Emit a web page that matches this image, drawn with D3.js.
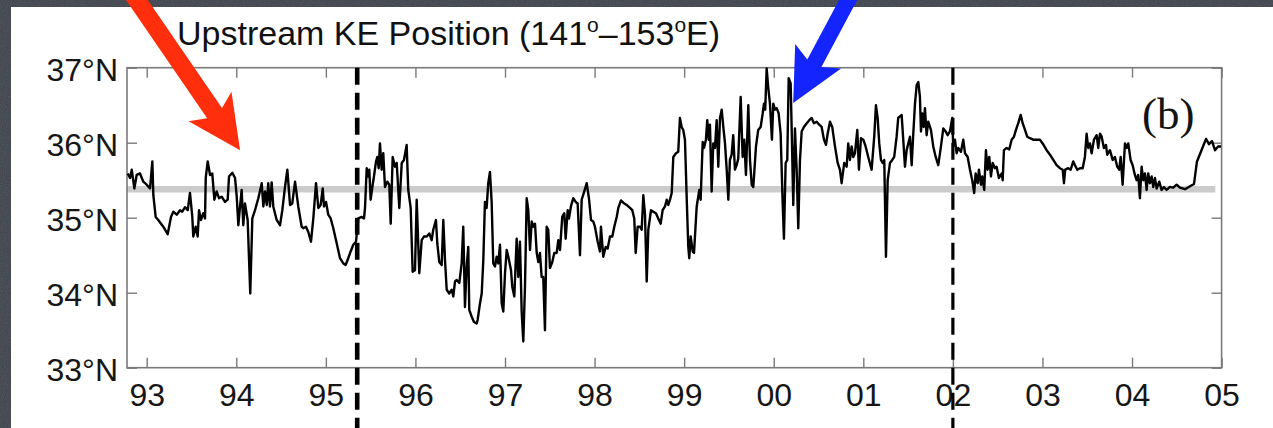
<!DOCTYPE html>
<html>
<head>
<meta charset="utf-8">
<script src="https://cdn.jsdelivr.net/npm/d3@7"></script>
<style>
  html, body { margin: 0; padding: 0; background: #3d414a; }
  svg { display: block; }
</style>
</head>
<body>
<svg id="chart" width="1273" height="428"></svg>
<script>
// tick values / labels
var yearTicks = [1993, 1994, 1995, 1996, 1997, 1998, 1999, 2000, 2001, 2002, 2003, 2004, 2005]
var yearLabels = ["93", "94", "95", "96", "97", "98", "99", "00", "01", "02", "03", "04", "05"]
var latTicks = [33, 34, 35, 36, 37]

// mean position (grey line) and the two regime changes (dashed lines)
var meanLat = 35.38
var regimeBreaks = [1995.35, 2002.0]

// upstream KE position [decimal year, latitude]
var kePosition = [
    [1992.788,35.59],[1992.814,35.53],[1992.833,35.64],[1992.862,35.39],[1992.888,35.57],[1992.925,35.59],[1992.962,35.48],[1993.000,35.44],
    [1993.037,35.39],[1993.063,35.75],[1993.074,35.30],[1993.100,35.01],[1993.129,34.97],[1993.185,34.88],[1993.234,34.78],[1993.271,35.01],
    [1993.297,35.08],[1993.335,35.04],[1993.372,35.10],[1993.397,35.08],[1993.428,35.14],[1993.458,35.10],[1993.483,35.33],[1993.509,35.01],
    [1993.520,34.75],[1993.547,34.88],[1993.569,34.75],[1993.584,35.10],[1993.606,34.97],[1993.632,35.06],[1993.651,34.99],[1993.659,35.53],
    [1993.681,35.75],[1993.707,35.57],[1993.732,35.59],[1993.755,35.24],[1993.781,35.35],[1993.807,35.26],[1993.837,35.28],[1993.874,35.21],
    [1993.904,35.24],[1993.919,35.55],[1993.956,35.60],[1993.986,35.53],[1994.005,35.28],[1994.023,34.90],[1994.042,35.15],[1994.060,35.37],
    [1994.078,34.90],[1994.097,35.19],[1994.127,34.97],[1994.156,33.99],[1994.179,34.99],[1994.209,35.10],[1994.246,35.26],[1994.284,35.46],
    [1994.302,35.15],[1994.321,35.35],[1994.340,35.17],[1994.357,35.46],[1994.376,35.15],[1994.395,35.47],[1994.413,35.15],[1994.451,34.97],
    [1994.488,34.90],[1994.514,35.10],[1994.544,35.41],[1994.570,35.64],[1994.600,35.17],[1994.625,35.19],[1994.656,35.48],[1994.692,35.15],
    [1994.730,34.88],[1994.748,34.86],[1994.778,34.88],[1994.804,34.81],[1994.834,34.68],[1994.860,34.99],[1994.890,35.46],[1994.916,35.13],
    [1994.942,35.17],[1994.965,35.39],[1994.979,35.15],[1995.002,35.21],[1995.027,35.04],[1995.054,34.99],[1995.083,34.86],[1995.121,34.66],
    [1995.158,34.46],[1995.195,34.39],[1995.221,34.37],[1995.250,34.46],[1995.277,34.55],[1995.306,34.64],[1995.336,34.68],[1995.351,34.84],
    [1995.362,34.99],[1995.400,35.01],[1995.426,34.99],[1995.437,35.13],[1995.456,35.66],[1995.474,35.55],[1995.485,35.64],[1995.500,35.24],
    [1995.523,35.44],[1995.537,35.55],[1995.560,35.75],[1995.574,35.81],[1995.590,35.66],[1995.604,35.99],[1995.623,35.64],[1995.641,35.86],
    [1995.660,35.41],[1995.686,35.48],[1995.708,35.44],[1995.724,34.92],[1995.746,35.81],[1995.772,35.68],[1995.791,35.73],[1995.820,35.13],
    [1995.847,35.73],[1995.872,35.77],[1995.902,35.97],[1995.920,35.37],[1995.947,35.13],[1995.969,34.28],[1995.995,34.30],[1996.014,35.24],
    [1996.043,34.26],[1996.070,34.70],[1996.096,34.75],[1996.126,34.75],[1996.155,34.79],[1996.181,34.70],[1996.199,34.84],[1996.229,34.97],
    [1996.244,34.66],[1996.266,34.41],[1996.293,34.37],[1996.311,34.97],[1996.330,34.44],[1996.349,34.04],[1996.378,33.99],[1996.405,34.04],
    [1996.423,33.95],[1996.442,34.15],[1996.461,34.17],[1996.490,34.13],[1996.516,34.39],[1996.534,34.88],[1996.553,33.81],[1996.572,34.35],
    [1996.590,34.61],[1996.601,33.77],[1996.628,33.68],[1996.654,33.61],[1996.684,33.59],[1996.695,33.64],[1996.721,33.86],[1996.740,33.99],
    [1996.758,34.44],[1996.776,35.21],[1996.795,35.13],[1996.813,35.46],[1996.832,35.61],[1996.851,35.21],[1996.869,34.39],[1996.888,34.35],
    [1996.907,34.48],[1996.925,34.39],[1996.944,34.64],[1996.963,33.86],[1996.981,33.75],[1997.000,34.26],[1997.019,34.57],[1997.037,34.48],
    [1997.067,34.30],[1997.081,34.08],[1997.104,33.95],[1997.130,34.72],[1997.148,34.21],[1997.167,34.68],[1997.186,33.75],[1997.204,33.35],
    [1997.223,34.08],[1997.242,35.26],[1997.260,35.10],[1997.279,34.57],[1997.298,34.95],[1997.316,34.88],[1997.335,34.92],[1997.354,34.53],
    [1997.372,34.41],[1997.390,34.53],[1997.409,34.21],[1997.427,34.21],[1997.446,33.50],[1997.465,34.88],[1997.483,34.84],[1997.502,34.33],
    [1997.528,34.41],[1997.550,34.53],[1997.577,34.53],[1997.595,34.70],[1997.614,34.57],[1997.639,35.01],[1997.662,35.06],[1997.677,34.72],
    [1997.700,35.10],[1997.714,34.99],[1997.736,35.15],[1997.762,35.26],[1997.789,35.21],[1997.811,35.19],[1997.837,34.50],[1997.856,35.24],
    [1997.885,35.35],[1997.912,35.46],[1997.937,35.26],[1997.960,34.97],[1997.985,34.95],[1998.004,34.88],[1998.035,34.68],[1998.060,34.55],
    [1998.071,34.88],[1998.097,34.48],[1998.124,34.61],[1998.146,34.59],[1998.172,34.75],[1998.198,34.75],[1998.220,34.88],[1998.247,35.01],
    [1998.265,35.13],[1998.295,35.23],[1998.320,35.20],[1998.358,35.17],[1998.395,35.13],[1998.421,35.10],[1998.443,34.99],[1998.459,34.53],
    [1998.481,34.88],[1998.507,34.88],[1998.526,34.84],[1998.544,35.30],[1998.563,35.04],[1998.582,34.15],[1998.600,34.84],[1998.630,35.10],
    [1998.655,35.08],[1998.685,35.06],[1998.711,34.99],[1998.738,34.92],[1998.760,35.10],[1998.786,35.15],[1998.805,35.24],[1998.823,35.17],
    [1998.842,35.24],[1998.861,35.33],[1998.879,35.81],[1998.909,35.86],[1998.934,35.88],[1998.953,36.33],[1998.972,36.21],[1998.990,36.17],
    [1999.009,36.04],[1999.028,35.28],[1999.046,34.61],[1999.057,34.46],[1999.073,34.75],[1999.095,34.55],[1999.110,34.53],[1999.140,35.15],
    [1999.169,35.37],[1999.184,35.24],[1999.207,36.01],[1999.221,35.93],[1999.243,36.04],[1999.258,36.30],[1999.274,36.04],[1999.288,36.24],
    [1999.307,35.35],[1999.325,35.99],[1999.344,35.93],[1999.363,36.30],[1999.381,35.68],[1999.400,36.33],[1999.419,36.44],[1999.437,36.21],
    [1999.456,35.99],[1999.475,35.64],[1999.493,35.24],[1999.511,35.77],[1999.530,35.84],[1999.548,36.10],[1999.567,35.64],[1999.586,35.70],
    [1999.604,35.79],[1999.631,36.61],[1999.653,35.81],[1999.671,36.04],[1999.690,35.57],[1999.716,36.50],[1999.735,35.77],[1999.754,35.44],
    [1999.772,35.41],[1999.802,35.95],[1999.827,36.17],[1999.854,36.21],[1999.877,36.39],[1999.891,36.52],[1999.905,36.44],[1999.921,36.99],
    [1999.939,36.73],[1999.958,36.52],[1999.980,36.04],[1999.995,36.52],[2000.014,36.44],[2000.033,36.46],[2000.055,36.39],[2000.077,36.12],
    [2000.100,35.19],[2000.114,34.72],[2000.133,35.73],[2000.151,35.77],[2000.167,36.86],[2000.189,36.79],[2000.203,36.04],[2000.218,35.17],
    [2000.237,36.19],[2000.256,35.64],[2000.274,34.86],[2000.293,35.77],[2000.312,36.15],[2000.337,36.21],[2000.368,36.26],[2000.397,36.30],
    [2000.423,36.33],[2000.449,36.26],[2000.479,36.28],[2000.508,36.24],[2000.535,36.21],[2000.561,36.04],[2000.583,35.97],[2000.602,36.12],
    [2000.628,36.28],[2000.653,36.21],[2000.684,35.95],[2000.714,35.73],[2000.739,35.64],[2000.758,35.46],[2000.787,35.73],[2000.814,35.68],
    [2000.832,35.99],[2000.851,35.77],[2000.870,35.95],[2000.888,35.81],[2000.907,35.86],[2000.933,36.17],[2000.951,35.64],[2000.974,36.06],
    [2001.000,36.04],[2001.026,35.95],[2001.055,35.81],[2001.093,35.64],[2001.122,36.08],[2001.141,36.50],[2001.160,36.33],[2001.178,35.99],
    [2001.197,35.77],[2001.216,35.73],[2001.234,35.77],[2001.253,34.48],[2001.272,35.50],[2001.298,35.73],[2001.323,35.77],[2001.345,35.81],
    [2001.372,36.08],[2001.390,36.33],[2001.409,36.35],[2001.428,36.37],[2001.446,36.04],[2001.465,35.68],[2001.484,35.90],[2001.502,35.99],
    [2001.521,36.08],[2001.540,35.70],[2001.558,36.12],[2001.577,36.52],[2001.596,36.77],[2001.614,36.81],[2001.632,36.61],[2001.644,36.15],
    [2001.658,36.39],[2001.674,36.21],[2001.688,36.46],[2001.707,36.10],[2001.725,36.28],[2001.755,36.17],[2001.781,35.95],[2001.808,35.81],
    [2001.837,35.70],[2001.867,35.95],[2001.893,36.19],[2001.919,36.15],[2001.942,36.10],[2001.967,36.15],[2001.993,36.33],[2002.004,35.95],
    [2002.023,36.04],[2002.042,35.86],[2002.060,35.93],[2002.090,35.88],[2002.116,36.04],[2002.135,35.86],[2002.165,35.81],[2002.191,35.64],
    [2002.216,35.50],[2002.238,35.33],[2002.254,35.59],[2002.277,35.46],[2002.291,35.64],[2002.313,35.44],[2002.328,35.55],[2002.350,35.37],
    [2002.369,35.90],[2002.388,35.64],[2002.406,35.81],[2002.425,35.55],[2002.444,35.73],[2002.470,35.66],[2002.488,35.68],[2002.514,35.53],
    [2002.545,35.59],[2002.556,35.50],[2002.570,35.90],[2002.600,35.93],[2002.629,35.91],[2002.656,36.04],[2002.682,36.08],[2002.704,36.17],
    [2002.730,36.26],[2002.757,36.37],[2002.779,36.26],[2002.805,36.17],[2002.830,36.08],[2002.860,36.06],[2002.897,36.04],[2002.935,36.04],
    [2002.972,36.04],[2003.002,35.99],[2003.047,35.90],[2003.084,35.84],[2003.121,35.77],[2003.158,35.70],[2003.195,35.66],[2003.226,35.64],
    [2003.240,35.46],[2003.254,35.64],[2003.288,35.66],[2003.315,35.64],[2003.344,35.75],[2003.363,35.70],[2003.389,35.64],[2003.419,35.66],
    [2003.449,35.66],[2003.474,35.81],[2003.493,36.12],[2003.511,35.93],[2003.530,35.99],[2003.549,35.86],[2003.575,36.04],[2003.605,36.10],
    [2003.623,35.93],[2003.642,36.12],[2003.661,36.08],[2003.686,35.93],[2003.709,35.97],[2003.723,35.84],[2003.753,35.90],[2003.784,35.77],
    [2003.809,35.81],[2003.835,35.68],[2003.857,35.64],[2003.873,35.81],[2003.895,35.44],[2003.921,35.99],[2003.940,35.93],[2003.958,35.99],
    [2003.984,35.77],[2004.007,35.70],[2004.032,35.57],[2004.051,35.50],[2004.069,35.57],[2004.088,35.26],[2004.107,35.68],[2004.125,35.50],
    [2004.144,35.59],[2004.163,35.37],[2004.181,35.59],[2004.200,35.46],[2004.219,35.55],[2004.237,35.41],[2004.256,35.53],[2004.275,35.39],
    [2004.304,35.48],[2004.330,35.37],[2004.356,35.41],[2004.386,35.37],[2004.423,35.41],[2004.460,35.40],[2004.498,35.44],[2004.535,35.40],
    [2004.591,35.38],[2004.647,35.42],[2004.692,35.45],[2004.725,35.75],[2004.759,35.85],[2004.792,35.95],[2004.826,36.05],[2004.859,35.98],
    [2004.893,36.02],[2004.926,35.90],[2004.960,35.95],[2004.993,35.95]
]

// the two slide pointers: tip in data units, tail direction / size in px
var pointers = [
    {color: "#ff2e0c", tip: [1994.042, 35.90], dx: -103, dy: -150, len: 200, shaft: 18},
    {color: "#1424ff", tip: [2000.217, 36.53], dx: 55, dy: -103, len: 125, shaft: 16}
]

var svg = d3.select("svg#chart"),
    width = +svg.attr("width"),
    height = +svg.attr("height")

var x = d3.scaleLinear().domain([1992.78, 2005]).range([127, 1221.6])
var y = d3.scaleLinear().domain([33, 37]).range([367.7, 67.7])

// slate background with a bit of grain
var defs = svg.append("defs")
var grain = defs.append("filter").attr("id", "grain").attr("x", 0).attr("y", 0).attr("width", "100%").attr("height", "100%")
grain.append("feTurbulence").attr("type", "fractalNoise").attr("baseFrequency", 0.9).attr("numOctaves", 2).attr("seed", 7)
grain.append("feColorMatrix").attr("type", "matrix")
    .attr("values", "0 0 0 0 0.5  0 0 0 0 0.52  0 0 0 0 0.56  0 0 0 0.35 0")

svg.append("rect").attr("width", width).attr("height", height).attr("fill", "#3b3f48")
svg.append("rect").attr("width", width).attr("height", height).attr("filter", "url(#grain)").attr("opacity", 0.6)

// white figure panel
svg.append("rect").attr("x", 11).attr("y", 7).attr("width", width - 11).attr("height", height - 7).attr("fill", "#fff")

var font = "'Liberation Sans', Arial, Helvetica, sans-serif"

// title
var title = svg.append("text").attr("x", 177).attr("y", 45)
    .style("font-family", font).style("font-size", "34px").attr("fill", "#111")
title.append("tspan").text("Upstream KE Position (141")
title.append("tspan").attr("dy", -13).style("font-size", "21px").text("o")
title.append("tspan").attr("dy", 13).text("\u2013153")
title.append("tspan").attr("dy", -13).style("font-size", "21px").text("o")
title.append("tspan").attr("dy", 13).text("E)")

// grey mean line
svg.append("line")
    .attr("x1", x(1992.78)).attr("x2", x(2004.93))
    .attr("y1", y(meanLat)).attr("y2", y(meanLat))
    .attr("stroke", "#cbcbcb").attr("stroke-width", 6.5)

// axes with inward ticks on all four sides
var axisColor = "#7a7a7a"
function styleAxis(g) {
    g.select(".domain").remove()
    g.selectAll(".tick line").attr("stroke", axisColor).attr("stroke-width", 1.4)
    g.selectAll("text").attr("fill", "#161616").style("font-family", font).style("font-size", "32px")
}

svg.append("g").attr("transform", "translate(0," + y(33) + ")")
    .call(d3.axisBottom(x).tickValues(yearTicks).tickFormat(function (d, i) { return yearLabels[i] })
        .tickSize(-10).tickPadding(16))
    .call(styleAxis)
svg.append("g").attr("transform", "translate(0," + y(37) + ")")
    .call(d3.axisTop(x).tickValues(yearTicks).tickFormat("").tickSize(-10))
    .call(styleAxis)
svg.append("g").attr("transform", "translate(" + x(1992.78) + ",0)")
    .call(d3.axisLeft(y).tickValues(latTicks).tickFormat(function (d) { return d + "\u00b0N" })
        .tickSize(-10).tickPadding(9))
    .call(styleAxis)
    .selectAll("text").attr("dy", "0.39em")
svg.append("g").attr("transform", "translate(" + x(2005) + ",0)")
    .call(d3.axisRight(y).tickValues(latTicks).tickFormat("").tickSize(-10))
    .call(styleAxis)

svg.append("rect")
    .attr("x", x(1992.78)).attr("y", y(37))
    .attr("width", x(2005) - x(1992.78)).attr("height", y(33) - y(37))
    .attr("fill", "none").attr("stroke", axisColor).attr("stroke-width", 1.6)

// KE position series
var line = d3.line()
    .x(function (d) { return x(d[0]) })
    .y(function (d) { return y(d[1]) })

svg.append("path").datum(kePosition)
    .attr("d", line)
    .attr("fill", "none").attr("stroke", "#000").attr("stroke-width", 2.4)
    .attr("stroke-linejoin", "round")

// regime-shift dashed lines, running down past the axis
svg.selectAll(".regime").data(regimeBreaks).enter().append("line")
    .attr("class", "regime")
    .attr("x1", function (d) { return x(d) }).attr("x2", function (d) { return x(d) })
    .attr("y1", y(37)).attr("y2", height)
    .attr("stroke", "#000")
    .attr("stroke-width", function (d, i) { return i == 0 ? 4.6 : 3.2 })
    .attr("stroke-dasharray", "17,8")

// panel label
svg.append("text").attr("x", 1142).attr("y", 129)
    .style("font-family", "'Liberation Serif', 'Times New Roman', serif").style("font-size", "45px")
    .attr("fill", "#141414").text("(b)")

// arrows
pointers.forEach(function (p) {
    var tx = x(p.tip[0]), ty = y(p.tip[1])
    var ang = Math.atan2(-p.dy, -p.dx) * 180 / Math.PI
    var h = 53, hw = 26, sw = p.shaft / 2
    var pts = [[0, 0], [-h, -hw], [-h + 8, -sw], [-p.len, -sw], [-p.len, sw], [-h + 8, sw], [-h, hw]]
    svg.append("polygon")
        .attr("points", pts.map(function (q) { return q.join(",") }).join(" "))
        .attr("transform", "translate(" + tx + "," + ty + ") rotate(" + ang + ")")
        .attr("fill", p.color)
})
</script>
</body>
</html>
